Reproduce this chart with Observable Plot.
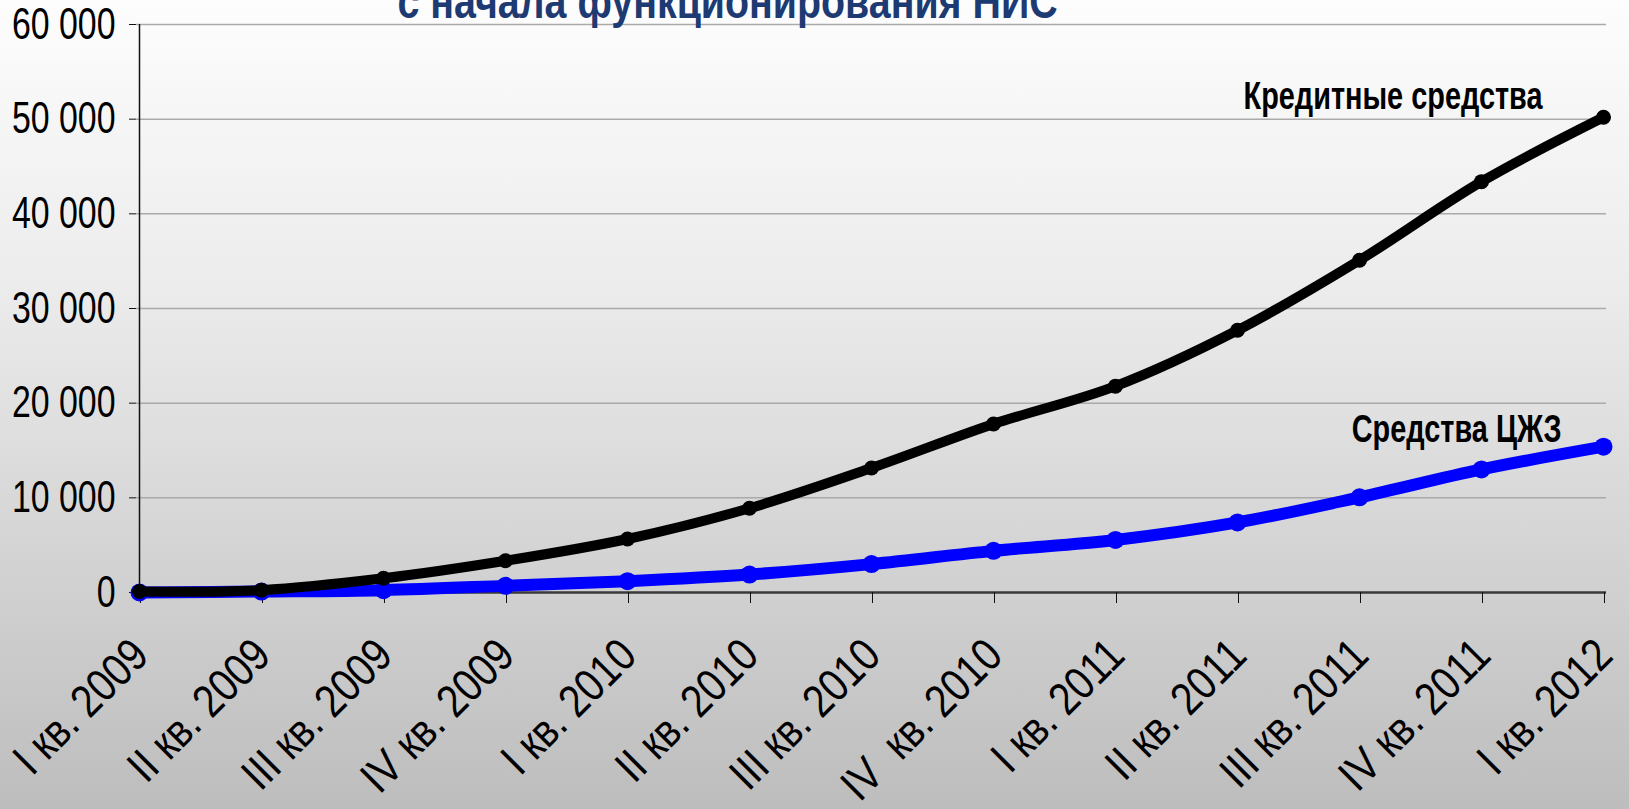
<!DOCTYPE html>
<html>
<head>
<meta charset="utf-8">
<script src="https://cdn.jsdelivr.net/npm/d3@7"></script>
<script src="https://cdn.jsdelivr.net/npm/@observablehq/plot@0.6"></script>
<style>
  html, body { margin: 0; padding: 0; }
  body {
    width: 1629px; height: 809px; overflow: hidden;
    background: linear-gradient(to bottom, #fdfdfd 0%, #ececec 35%, #d6d6d6 65%, #bdbdbd 100%);
  }
  #chart svg { display: block; background: transparent; }
</style>
</head>
<body>
<div id="chart"></div>
<script>
// Quarters since the start of the programme
const quarters = [
  "I кв. 2009", "II кв. 2009", "III кв. 2009", "IV кв. 2009",
  "I кв. 2010", "II кв. 2010", "III кв. 2010", "IV  кв. 2010",
  "I кв. 2011", "II кв. 2011", "III кв. 2011", "IV кв. 2011",
  "I кв. 2012"
];
// Cumulative loan funds
const creditFunds = [100, 250, 1500, 3350, 5650, 8900, 13150, 17800, 21800, 27700, 35100, 43400, 50200];
// Cumulative ЦЖЗ funds
const czhzFunds = [0, 100, 250, 700, 1200, 1900, 3000, 4400, 5550, 7400, 10050, 13000, 15400];
const yTicks = [0, 10000, 20000, 30000, 40000, 50000, 60000];
const title = "с начала функционирования НИС";
const seriesNames = ["Кредитные средства", "Средства ЦЖЗ"];

const credit = quarters.map((q, i) => ({q, v: creditFunds[i]}));
const czhz = quarters.map((q, i) => ({q, v: czhzFunds[i]}));

const fmt = d3.formatLocale({decimal: ",", thousands: " ", grouping: [3], currency: ["", ""]}).format(",d");
const sans = "'Liberation Sans', Arial, sans-serif";

const chart = Plot.plot({
  width: 1629,
  height: 809,
  marginLeft: 136,
  marginRight: 23,
  marginTop: 24,
  marginBottom: 217,
  style: {fontFamily: sans, fontSize: "40px", color: "#000", background: "transparent", overflow: "hidden"},
  x: {type: "point", domain: quarters, padding: 0},
  y: {domain: [0, 60000]},
  marks: [
    Plot.gridY(yTicks.filter(d => d > 0), {stroke: "#aaaaaa", strokeOpacity: 1, strokeWidth: 1.5}),
    Plot.ruleX([quarters[0]], {y1: 0, y2: 60000, stroke: "#111", strokeWidth: 1.5}),
    Plot.ruleY([0], {stroke: "#3a3a3a", strokeWidth: 2.5}),
    Plot.axisY({ticks: yTicks, tickFormat: fmt, tickSize: 7, tickPadding: 14, fontSize: 44, fill: "#000", stroke: "#111", label: null}),
    Plot.axisX({tickSize: 11, tickPadding: 44, dx: 1, tickRotate: -45, fontSize: 46, fill: "#000", stroke: "#111", label: null}),
    Plot.line(czhz, {x: "q", y: "v", stroke: "#0000ff", strokeWidth: 12, curve: "catmull-rom"}),
    Plot.dot(czhz, {x: "q", y: "v", fill: "#0000ff", r: 9}),
    Plot.line(credit, {x: "q", y: "v", stroke: "#000", strokeWidth: 10, curve: "catmull-rom"}),
    Plot.dot(credit, {x: "q", y: "v", fill: "#000", r: 7.5}),
    Plot.text([credit[credit.length - 1]], {x: "q", y: "v", text: () => seriesNames[0], textAnchor: "end", lineAnchor: "bottom", dx: -61, dy: -8, fontSize: 38, fontWeight: "bold", fill: "#000"}),
    Plot.text([czhz[czhz.length - 1]], {x: "q", y: "v", text: () => seriesNames[1], textAnchor: "end", lineAnchor: "bottom", dx: -42, dy: -5, fontSize: 38, fontWeight: "bold", fill: "#000"}),
    Plot.text([title], {frameAnchor: "top", dx: -144, dy: -7, lineAnchor: "bottom", fontSize: 48, fontWeight: "bold", fill: "#1d3a72"})
  ]
});

// Condense labels horizontally (narrow typeface look), per label group
const squeeze = {"y-axis tick label": 0.77, "x-axis tick label": 0.85};
chart.querySelectorAll("text").forEach(t => {
  const group = t.closest("g[aria-label]");
  const kind = group ? group.getAttribute("aria-label") : "";
  const k = squeeze[kind] ?? (+t.closest("[font-size]")?.getAttribute("font-size") === 48 ? 0.82 : 0.76);
  let tr = t.getAttribute("transform") || "";
  const x = t.getAttribute("x");
  if (x != null && !/em$/.test(x)) {
    tr = `translate(${x},0) ` + tr;
    t.removeAttribute("x");
  }
  t.setAttribute("transform", `${tr} scale(${k},1)`.trim());
});

document.getElementById("chart").appendChild(chart);
</script>
</body>
</html>
